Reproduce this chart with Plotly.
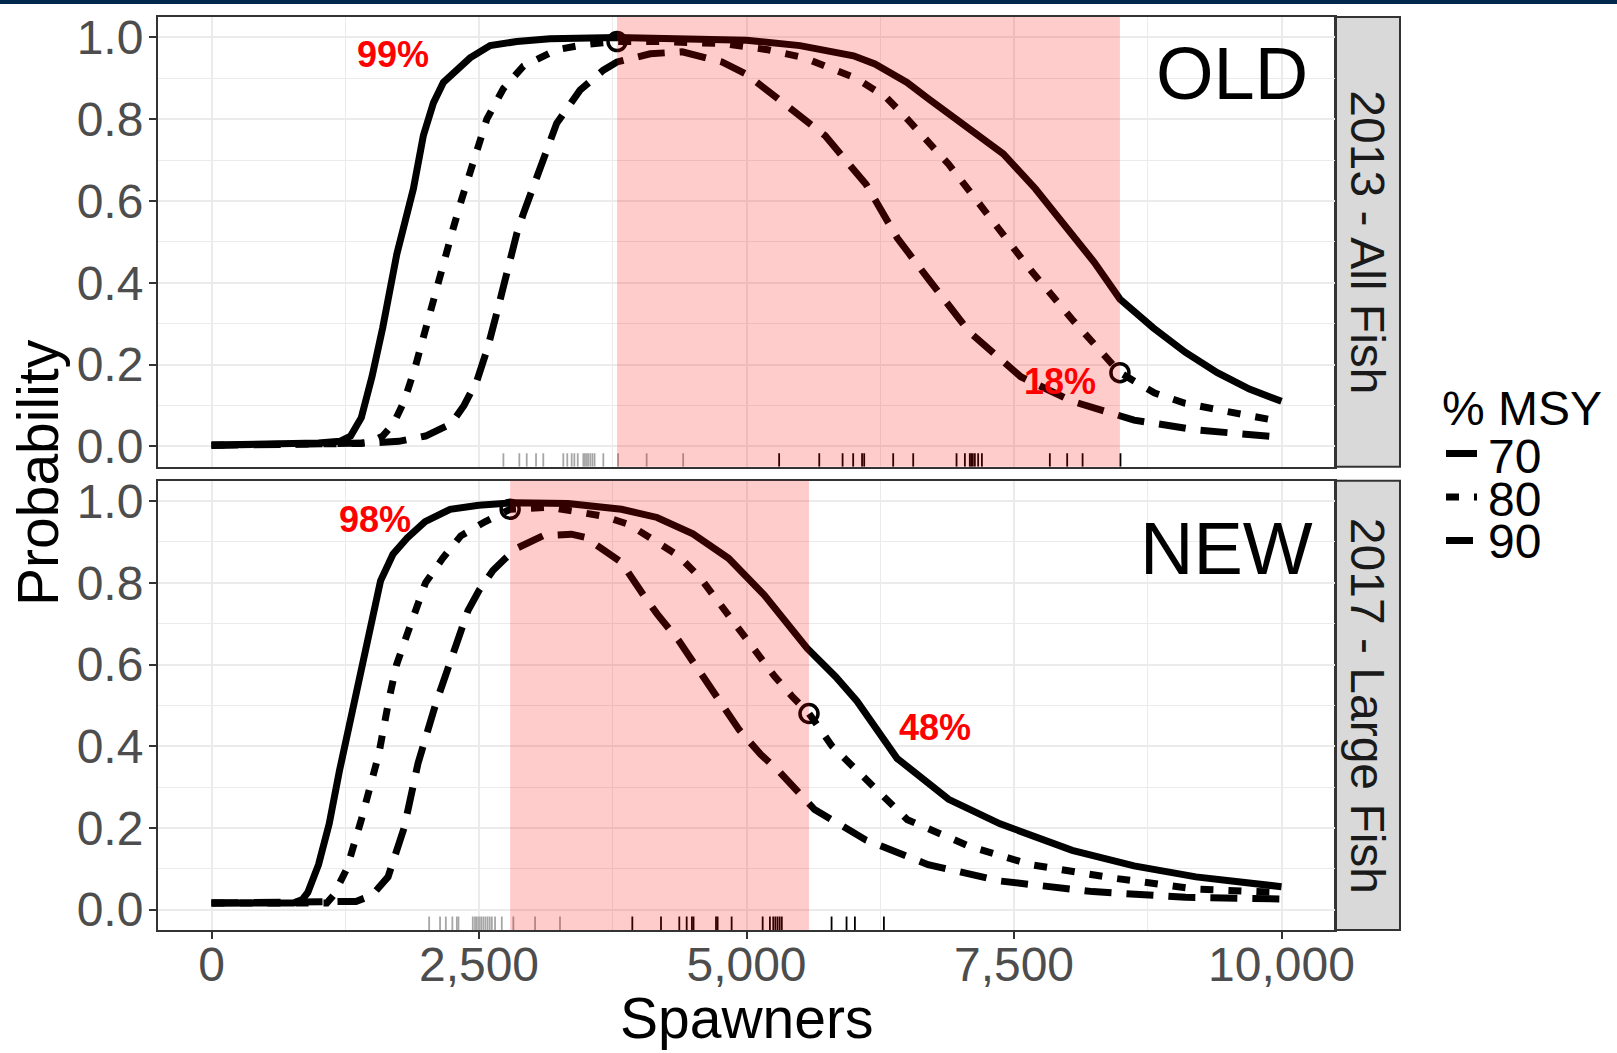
import plotly.graph_objects as go

# ---------------------------------------------------------------- data
msy_levels = ["70", "80", "90"]
panel_labels = ["2013 - All Fish", "2017 - Large Fish"]
panel_tags = ["OLD", "NEW"]
x_ticks = [0, 2500, 5000, 7500, 10000]
y_ticks = [0.0, 0.2, 0.4, 0.6, 0.8, 1.0]

# 2013 - All Fish : probability of reaching the % MSY level
old_x70 = [0, 600, 1000, 1200, 1300, 1400, 1500, 1600, 1732, 1887, 1980, 2074, 2167, 2417, 2604,
           2853, 3164, 3790, 4200, 4771, 5000, 5500, 6000, 6200, 6500, 6700, 7000, 7400, 7700, 8000,
           8250, 8490, 8800, 9100, 9400, 9700, 10000]
old_p70 = [0.003, 0.005, 0.008, 0.012, 0.025, 0.07, 0.17, 0.29, 0.47, 0.63, 0.76, 0.84, 0.89, 0.95, 0.98,
           0.99, 0.997, 1.0, 0.998, 0.995, 0.993, 0.98, 0.955, 0.935, 0.89, 0.85, 0.79, 0.715, 0.63, 0.53,
           0.45, 0.36, 0.29, 0.23, 0.18, 0.14, 0.11]
old_x80 = [0, 800, 1200, 1400, 1500, 1600, 1700, 1800, 1900, 2000, 2100, 2183, 2261, 2339, 2401, 2495,
           2573, 2728, 2915, 3226, 3500, 3790, 4200, 4771, 5200, 5542, 6023, 6300, 6504, 6889, 7274, 7659,
           8044, 8490, 8815, 9100, 9393, 9700, 10000]
old_p80 = [0.003, 0.004, 0.006, 0.007, 0.012, 0.025, 0.055, 0.11, 0.19, 0.29, 0.39, 0.47, 0.535, 0.605,
           0.66, 0.745, 0.80, 0.875, 0.93, 0.97, 0.983, 0.99, 0.99, 0.985, 0.97, 0.95, 0.90, 0.855, 0.80,
           0.69, 0.56, 0.43, 0.31, 0.18, 0.13, 0.105, 0.09, 0.075, 0.06]
old_x90 = [0, 1000, 1500, 1750, 2000, 2240, 2360, 2480, 2580, 2670, 2760, 2853, 2915, 3008, 3101, 3226,
           3444, 3662, 3790, 4100, 4400, 4771, 5000, 5252, 5500, 5734, 6119, 6408, 6697, 7082, 7563, 8044,
           8622, 9200, 10000]
old_p90 = [0.002, 0.004, 0.008, 0.012, 0.025, 0.055, 0.10, 0.16, 0.24, 0.33, 0.43, 0.52, 0.569, 0.634,
           0.70, 0.79, 0.871, 0.92, 0.94, 0.96, 0.965, 0.94, 0.91, 0.86, 0.81, 0.76, 0.64, 0.51, 0.41, 0.28,
           0.17, 0.11, 0.064, 0.04, 0.022]

# 2017 - Large Fish
new_x70 = [0, 766, 850, 900, 1000, 1100, 1196, 1329, 1463, 1580, 1696, 1829, 1996, 2230, 2497, 2830,
           3331, 3831, 4164, 4499, 4832, 5166, 5566, 5833, 6033, 6408, 6889, 7370, 8044, 8622, 9200, 10000]
new_p70 = [0.016, 0.016, 0.025, 0.042, 0.11, 0.21, 0.34, 0.50, 0.68, 0.805, 0.87, 0.91, 0.95, 0.98, 0.99,
           0.996, 0.994, 0.98, 0.96, 0.92, 0.86, 0.77, 0.64, 0.57, 0.51, 0.37, 0.27, 0.21, 0.145, 0.107,
           0.08, 0.056]
new_x80 = [0, 1078, 1140, 1265, 1400, 1563, 1663, 1730, 1830, 1930, 2000, 2160, 2330, 2560, 2791, 3164,
           3665, 3900, 4164, 4365, 4565, 4732, 4899, 5099, 5266, 5433, 5584, 5800, 6000, 6504, 7082, 7659,
           8430, 9200, 10000]
new_p80 = [0.016, 0.016, 0.035, 0.10, 0.22, 0.38, 0.52, 0.60, 0.675, 0.75, 0.80, 0.86, 0.915, 0.95, 0.98,
           0.985, 0.963, 0.943, 0.90, 0.866, 0.813, 0.756, 0.695, 0.63, 0.57, 0.52, 0.48, 0.40, 0.35, 0.22,
           0.155, 0.11, 0.077, 0.05, 0.042]
new_x90 = [0, 1200, 1350, 1500, 1650, 1800, 1930, 2096, 2230, 2313, 2397, 2497, 2630, 2747, 2864, 3098,
           3364, 3497, 3731, 3831, 4032, 4164, 4365, 4532, 4732, 4932, 5132, 5299, 5636, 6118, 6697, 7370,
           8237, 9104, 10000]
new_p90 = [0.016, 0.016, 0.02, 0.035, 0.08, 0.2, 0.358, 0.504, 0.61, 0.667, 0.732, 0.78, 0.83, 0.86,
           0.886, 0.915, 0.919, 0.911, 0.87, 0.85, 0.772, 0.724, 0.659, 0.593, 0.52, 0.44, 0.38, 0.34,
           0.245, 0.17, 0.11, 0.07, 0.044, 0.03, 0.026]

# goal ranges (shaded) and the 80% MSY probability at each bound
old_goal = [3790, 8490]
new_goal = [2791, 5584]
old_goal_prob = [0.99, 0.18]
new_goal_prob = [0.98, 0.48]

# observed escapements (rug)
old_rug_grey = [2728, 2877, 2946, 3033, 3101, 3288, 3325, 3366, 3391, 3423, 3475, 3490, 3505, 3520,
                3540, 3560, 3580, 3662, 3800, 4067, 4408]
old_rug_black = [5305, 5680, 5898, 5997, 6080, 6100, 6371, 6558, 6963, 7041, 7087, 7100, 7115, 7134,
                 7165, 7200, 7835, 7997, 8141, 8495]
new_rug_grey = [2034, 2136, 2190, 2251, 2293, 2308, 2442, 2463, 2480, 2500, 2520, 2540, 2560, 2580,
                2600, 2620, 2650, 2713, 2821, 3024, 3257]
new_rug_black = [3933, 4201, 4372, 4441, 4490, 4505, 4715, 4730, 4861, 5151, 5219, 5250, 5270, 5290,
                 5310, 5330, 5795, 5935, 6013, 6284]

# ---------------------------------------------------------------- layout helpers
W, H = 1617, 1053
ML, MR, MT, MB = 158, 282, 17, 123
PW = W - ML - MR
PH = H - MT - MB
FONT = "Liberation Sans, Arial, sans-serif"


def fx(px):
    return (px - ML) / PW


def fy(py):
    return (H - MB - py) / PH


top_dom = [fy(466.7), 1.0]
bot_dom = [0.0, fy(480.7)]
YR = [-0.05, 1.05]
XR = [-500, 10500]

dash_of = {"70": "solid", "80": "13px,15px", "90": "27px,15px"}
LW = 7

fig = go.Figure()

panels = [
    ("x", "y", [(old_x70, old_p70), (old_x80, old_p80), (old_x90, old_p90)],
     old_goal, old_goal_prob, old_rug_grey, old_rug_black),
    ("x2", "y2", [(new_x70, new_p70), (new_x80, new_p80), (new_x90, new_p90)],
     new_goal, new_goal_prob, new_rug_grey, new_rug_black),
]


def rug_xy(vals):
    xs, ys = [], []
    for v in vals:
        xs += [v, v, None]
        ys += [YR[0], YR[0] + 0.03 * (YR[1] - YR[0]), None]
    return xs, ys


for xa, ya, curves, goal, gprob, rg, rb in panels:
    for lvl, (cx, cy) in zip(msy_levels, curves):
        fig.add_trace(go.Scatter(x=cx, y=cy, xaxis=xa, yaxis=ya, mode="lines",
                                 line=dict(color="black", width=LW, dash=dash_of[lvl]),
                                 showlegend=False, hoverinfo="skip"))
    for vals, col in ((rg, "#A6A6A6"), (rb, "black")):
        rx, ry = rug_xy(vals)
        fig.add_trace(go.Scatter(x=rx, y=ry, xaxis=xa, yaxis=ya, mode="lines",
                                 line=dict(color=col, width=1.8), showlegend=False,
                                 hoverinfo="skip"))
    fig.add_trace(go.Scatter(x=goal, y=gprob, xaxis=xa, yaxis=ya, mode="markers",
                             marker=dict(symbol="circle-open", size=18, color="black",
                                         line=dict(width=3.5, color="black")),
                             showlegend=False, hoverinfo="skip"))

shapes = []
# goal-range shading drawn over the curves
for xa, ya, goal in (("x", "y", old_goal), ("x2", "y2", new_goal)):
    shapes.append(dict(type="rect", xref=xa, yref=f"{ya} domain", x0=goal[0], x1=goal[1],
                       y0=0, y1=1, fillcolor="rgba(255,0,0,0.2)", line=dict(width=0),
                       layer="above"))
# facet strips
for dom in (top_dom, bot_dom):
    shapes.append(dict(type="rect", xref="paper", yref="paper", x0=1.0, x1=fx(1400),
                       y0=dom[0], y1=dom[1], fillcolor="#D9D9D9",
                       line=dict(color="#333333", width=2), layer="below"))
# header bar
shapes.append(dict(type="rect", xref="paper", yref="paper", x0=fx(0), x1=fx(W),
                   y0=fy(4), y1=fy(0), fillcolor="#00274C", line=dict(width=0)))
# legend keys
key_y = [453.5, 497, 540.5]
for lvl, ky in zip(msy_levels, key_y):
    shapes.append(dict(type="line", xref="paper", yref="paper", x0=fx(1446), x1=fx(1477),
                       y0=fy(ky), y1=fy(ky), line=dict(color="black", width=LW, dash=dash_of[lvl])))

ann = []
red = dict(family=FONT, size=36, color="#FF0000")
C = dict(xanchor="center", yanchor="middle", showarrow=False)
ann += [
    dict(x=9535, y=0.913, xref="x", yref="y", text=panel_tags[0],
         font=dict(family=FONT, size=74, color="black"), **C),
    dict(x=9488, y=0.884, xref="x2", yref="y2", text=panel_tags[1],
         font=dict(family=FONT, size=74, color="black"), **C),
    dict(x=1697, y=0.959, xref="x", yref="y", text=f"<b>{round(old_goal_prob[0]*100)}%</b>",
         font=red, **C),
    dict(x=7928, y=0.159, xref="x", yref="y", text=f"<b>{round(old_goal_prob[1]*100)}%</b>",
         font=red, **C),
    dict(x=1529, y=0.956, xref="x2", yref="y2", text=f"<b>{round(new_goal_prob[0]*100)}%</b>",
         font=red, **C),
    dict(x=6760, y=0.446, xref="x2", yref="y2", text=f"<b>{round(new_goal_prob[1]*100)}%</b>",
         font=red, **C),
]
# strip labels
for lab, dom in zip(panel_labels, (top_dom, bot_dom)):
    ann.append(dict(x=fx(1367.5), y=(dom[0] + dom[1]) / 2, xref="paper", yref="paper", text=lab,
                    textangle=90, font=dict(family=FONT, size=48, color="#1A1A1A"), **C))
# axis titles
ann.append(dict(x=fx(746.5), y=fy(1018), xref="paper", yref="paper", text="Spawners",
                font=dict(family=FONT, size=57, color="black"), **C))
ann.append(dict(x=fx(38), y=fy(473), xref="paper", yref="paper", text="Probability",
                textangle=-90, font=dict(family=FONT, size=57, color="black"), **C))
# legend
ann.append(dict(x=fx(1440), y=fy(408), xref="paper", yref="paper", text="% MSY", xanchor="left",
                yanchor="middle", showarrow=False, font=dict(family=FONT, size=48, color="black")))
for lvl, ty in zip(msy_levels, [456.5, 499, 541.5]):
    ann.append(dict(x=fx(1486), y=fy(ty), xref="paper", yref="paper", text=lvl, xanchor="left",
                    yanchor="middle", showarrow=False,
                    font=dict(family=FONT, size=48, color="black")))

grid = dict(showgrid=True, gridcolor="#EBEBEB", gridwidth=2, zeroline=False,
            showline=True, mirror=True, linecolor="#333333", linewidth=2)
xcommon = dict(range=XR, tickvals=x_ticks, tickformat=",d",
               minor=dict(dtick=1250, tick0=0, showgrid=True, gridcolor="#EBEBEB", gridwidth=1.2),
               **grid)
ycommon = dict(range=YR, tickvals=y_ticks, tickformat=".1f", ticks="outside", ticklen=7,
               tickwidth=2, tickcolor="#333333", ticklabelstandoff=-4,
               tickfont=dict(family=FONT, size=48, color="#4D4D4D"),
               minor=dict(dtick=0.1, tick0=0, showgrid=True, gridcolor="#EBEBEB", gridwidth=1.2),
               **grid)

fig.update_layout(
    width=W, height=H,
    margin=dict(l=ML, r=MR, t=MT, b=MB, pad=0, autoexpand=False),
    paper_bgcolor="white", plot_bgcolor="white",
    showlegend=False,
    xaxis=dict(domain=[0, 1], anchor="y", showticklabels=False, ticks="", matches="x2", **xcommon),
    xaxis2=dict(domain=[0, 1], anchor="y2", ticks="outside", ticklen=7, tickwidth=2,
                tickcolor="#333333", ticklabelstandoff=-16,
                tickfont=dict(family=FONT, size=48, color="#4D4D4D"), **xcommon),
    yaxis=dict(domain=top_dom, anchor="x", **ycommon),
    yaxis2=dict(domain=bot_dom, anchor="x2", **ycommon),
    shapes=shapes,
    annotations=ann,
    font=dict(family=FONT),
)

fig.write_html("out.html")
